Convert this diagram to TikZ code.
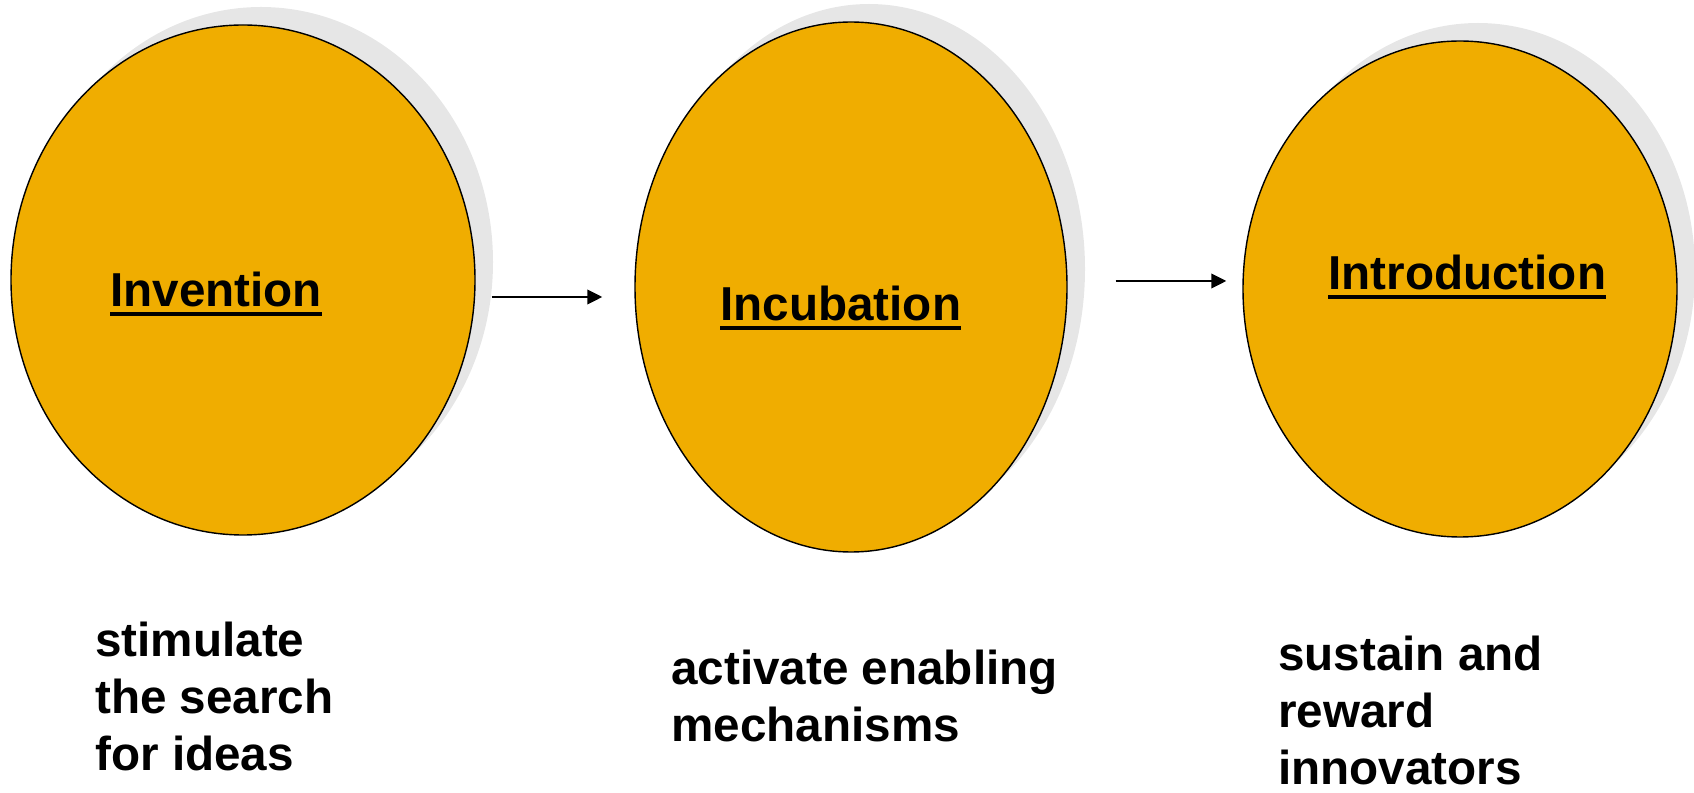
\documentclass[tikz,border=0pt]{standalone}
\usepackage{fontspec}
\setmainfont{Liberation Sans}
\usetikzlibrary{shapes.geometric,shadows,arrows.meta}
\definecolor{stagefill}{RGB}{240,173,0}
\definecolor{stageshade}{RGB}{230,230,230}
% underlined stage name, rule set a little below the baseline
\newcommand{\stagename}[1]{\leavevmode\setbox0\hbox{#1}\rlap{\rule[-5.2pt]{\wd0}{2.4pt}}\box0}
\tikzset{
  stage/.style={
    ellipse, draw=black, line width=0.8pt, fill=stagefill, inner sep=0pt,
    drop shadow={shadow xshift=0.36cm, shadow yshift=0.36cm, fill=stageshade, opacity=1}
  },
  stagetitle/.style={anchor=base west, inner sep=0pt,
    font=\bfseries\fontsize{27.1pt}{32.4pt}\selectfont},
  stagenote/.style={anchor=base west, inner sep=0pt, align=left,
    font=\bfseries\fontsize{27.1pt}{32.4pt}\selectfont},
  flow/.style={line width=1.1pt, -{Triangle[length=0.30cm, width=0.29cm]}},
}

\begin{document}
\begin{tikzpicture}
                \useasboundingbox (0,0) rectangle (33.88,15.84);
                % the three stages
                \node[stage, minimum width=9.28cm, minimum height=10.20cm] (inv) at (4.86, 10.24) {};
                \node[stage, minimum width=8.64cm, minimum height=10.60cm] (inc) at (17.02, 10.10) {};
                \node[stage, minimum width=8.68cm, minimum height=9.92cm] (intro) at (29.20, 10.06) {};
                \node[stagetitle] (invtitle) at (2.20, 9.70) {\stagename{Invention}};
                \node[stagetitle] (inctitle) at (14.40, 9.42) {\stagename{Incubation}};
                \node[stagetitle] (introtitle) at (26.56, 10.04) {\stagename{Introduction}};
                % arrows between stages
                \draw[flow, shorten <=0.32cm, shorten >=0.64cm] ([yshift=-0.34cm]inv.east) -- ([yshift=-0.20cm]inc.west);
                \draw[flow, shorten <=0.96cm, shorten >=0.32cm] ([yshift=0.12cm]inc.east) -- ([yshift=0.16cm]intro.west);
                % what each stage does (base is the last line)
                \node[stagenote] (invnote) at (1.90, 0.44) {stimulate\\the search\\for ideas};
                \node[stagenote] (incnote) at (13.42, 1.02) {activate enabling\\mechanisms};
                \node[stagenote] (intronote) at (25.56, 0.16) {sustain and\\reward\\innovators};
            \end{tikzpicture}
\end{document}
